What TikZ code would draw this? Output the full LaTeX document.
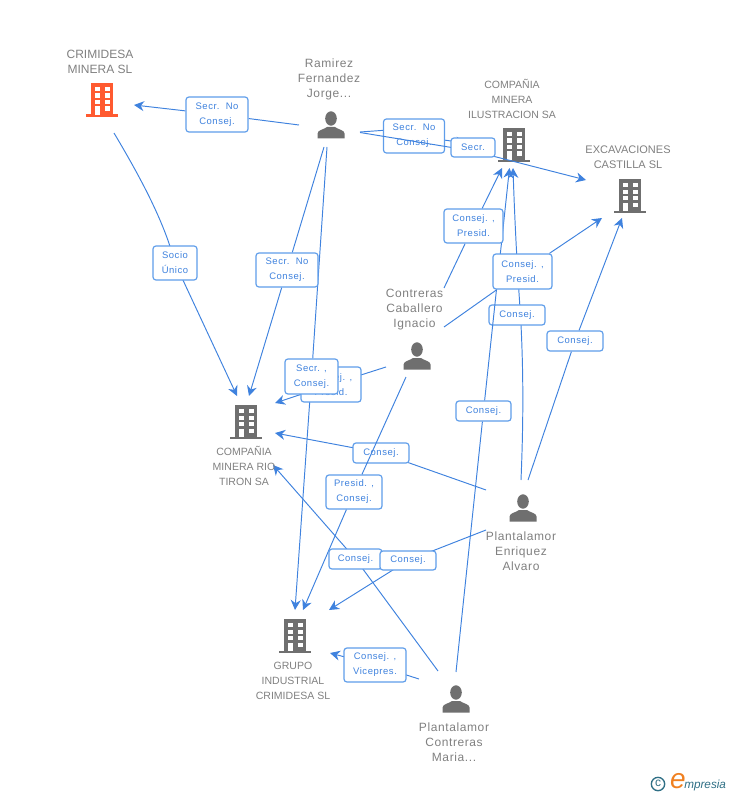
\documentclass[tikz,border=0pt]{standalone}
\usepackage{fontspec}
\setmainfont{Liberation Sans}
\usetikzlibrary{arrows.meta}
\pgfdeclarelayer{edges}
\pgfsetlayers{edges,main}
\definecolor{linkblue}{HTML}{3F82DE}
\definecolor{labelblue}{HTML}{3F82DE}
\definecolor{boxblue}{HTML}{5F9DEA}
\definecolor{icongray}{HTML}{6F6F6F}
\definecolor{textgray}{HTML}{808080}
\definecolor{iconorange}{HTML}{FF5A30}
\definecolor{logoteal}{HTML}{2F6F85}
\definecolor{logoorange}{HTML}{F08020}
\tikzset{
  x=0.75pt, y=-0.75pt,
  link/.style={draw=linkblue, line width=0.72pt, -{Stealth[length=7.5pt,width=7.5pt,inset=2.4pt]}},
  elabel/.style 2 args={draw=boxblue, line width=0.9pt, fill=white, rounded corners=2.2pt,
    inner sep=0pt, minimum width=#1*0.75pt, minimum height=#2*0.75pt, align=center, text=labelblue,
    font=\fontsize{7.1}{11.25}\selectfont\addfontfeature{LetterSpace=6}},
  orglabel/.style={text=textgray, align=center, inner sep=0pt, font=\fontsize{#1}{11.25}\selectfont},
  namelabel/.style={text=textgray, align=center, inner sep=0pt, font=\fontsize{9}{11.25}\selectfont\addfontfeature{LetterSpace=5}},
  iconbox/.style={inner sep=0pt, minimum size=24pt},
  pics/building/.style={code={
    \fill[#1] (-11,-17) rectangle (11,15);
    \fill[#1] (-16,14.5) rectangle (16,17);
    \foreach \wy in {-13,-6.5,0}{
      \fill[white] (-7.5,\wy) rectangle (-2.5,\wy+4.4);
      \fill[white] (2.5,\wy) rectangle (7.5,\wy+4.4);
    }
    \fill[white] (-7.5,6.5) rectangle (-2.5,15);
    \fill[white] (2.5,6.5) rectangle (7.5,10.9);
  }},
  pics/person/.style={code={
    \fill[icongray] (0,-6.5) ellipse [x radius=5.8, y radius=7.2];
    \fill[icongray] (-13.5,13.5) -- (-13.5,8.5) .. controls (-13.5,5) and (-7,4.5) .. (-4,2)
      -- (4,2) .. controls (7,4.5) and (13.5,5) .. (13.5,8.5) -- (13.5,13.5) -- cycle;
  }}
}
\begin{document}
\begin{tikzpicture}
\useasboundingbox (0,0) rectangle (728,795);

% icons
\node[iconbox] (crimidesa) at (102,100) {}; \pic at (102,100) {building=iconorange};
\node[iconbox] (ilustracion) at (514,145) {}; \pic at (514,145) {building=icongray};
\node[iconbox] (excavaciones) at (630,196) {}; \pic at (630,196) {building=icongray};
\node[iconbox] (riotiron) at (246,422) {}; \pic at (246,422) {building=icongray};
\node[iconbox] (grupo) at (295,636) {}; \pic at (295,636) {building=icongray};
\node[iconbox] (ramirez) at (331,125) {}; \pic at (331,125) {person};
\node[iconbox] (contreras) at (417,356) {}; \pic at (417,356) {person};
\node[iconbox] (enriquez) at (523,508) {}; \pic at (523,508) {person};
\node[iconbox] (maria) at (456,699) {}; \pic at (456,699) {person};

% names
\node[orglabel=9] (tcrim) at (100,61.5) {CRIMIDESA\\MINERA SL};
\node[namelabel] (tram) at (329,79) {Ramirez\\Fernandez\\Jorge...};
\node[orglabel=7.9] (tilu) at (512,98.7) {COMPAÑIA\\MINERA\\ILUSTRACION SA};
\node[orglabel=8.25] (texc) at (628,157.5) {EXCAVACIONES\\CASTILLA SL};
\node[namelabel] (tcon) at (414.5,309.5) {Contreras\\Caballero\\Ignacio};
\node[orglabel=7.9] (trio) at (244,466) {COMPAÑIA\\MINERA RIO\\TIRON SA};
\node[namelabel] (tenr) at (521,551) {Plantalamor\\Enriquez\\Alvaro};
\node[orglabel=7.9] (tgru) at (293,680.7) {GRUPO\\INDUSTRIAL\\CRIMIDESA SL};
\node[namelabel] (tmar) at (454,742) {Plantalamor\\Contreras\\Maria...};

% free ends of the connectors
\coordinate (r-w) at (299,125);
\coordinate (r-sw) at (324,147);
\coordinate (r-s) at (327,147);
\coordinate (r-e1) at (360,132);
\coordinate (r-e2) at (360,132.5);
\coordinate (r-j) at (388,130);
\coordinate (s-j) at (473,151);
\coordinate (c-n) at (444,288);
\coordinate (c-e) at (444,327);
\coordinate (c-w) at (386,367);
\coordinate (c-s) at (406,377);
\coordinate (e-nw) at (486,490);
\coordinate (e-n1) at (521,480);
\coordinate (e-n2) at (528,480);
\coordinate (e-w) at (486,530);
\coordinate (e-j) at (520.5,315);
\coordinate (m-n) at (456,672);
\coordinate (m-nw) at (438,671);
\coordinate (m-w) at (419,679);
\coordinate (cr-s) at (114,133);
\coordinate (to-crim) at (134,105);
\coordinate (to-ilu0) at (466,143);
\coordinate (to-ilu1) at (502,168);
\coordinate (to-ilu2) at (509.5,168);
\coordinate (to-ilu3) at (513,168);
\coordinate (to-exc1) at (586,180);
\coordinate (to-exc2) at (602,218);
\coordinate (to-exc3) at (622,218);
\coordinate (to-rio1) at (237,396);
\coordinate (to-rio2) at (249,396);
\coordinate (to-rio3) at (275,403);
\coordinate (to-rio4) at (275,433);
\coordinate (to-rio5) at (273,465);
\coordinate (to-gru1) at (295,610);
\coordinate (to-gru2) at (303,610);
\coordinate (to-gru3) at (329,610);
\coordinate (to-gru4) at (330,653);

% edge labels and the connectors that run over some of them, in stacking order
\node[elabel={62}{35}] (l1) at (217,114.5) {Secr.\ \ No\\Consej.};
\node[elabel={61}{34}] (l2) at (414,136) {Secr.\ \ No\\Consej.};
\draw[link] (r-e2) -- (s-j) -- (to-exc1);
\node[elabel={44}{19}] (l3) at (473,147.5) {Secr.};
\node[elabel={55}{20}] (l8) at (483.5,411) {Consej.};
\node[elabel={56}{20}] (l6) at (517,315) {Consej.};
\draw[link] (m-n) -- (l8) -- (to-ilu2);
\node[elabel={59}{34}] (l4) at (473.5,226) {Consej. ,\\Presid.};
\node[elabel={59}{35}] (l5) at (522.5,271.5) {Consej. ,\\Presid.};
\node[elabel={56}{20}] (l7) at (575,341) {Consej.};
\node[elabel={44}{34}] (l9) at (175,263) {Socio\\Único};
\node[elabel={62}{34}] (l10) at (287,270) {Secr.\ \ No\\Consej.};
\node[elabel={60}{35}] (l11) at (331,384.5) {Consej. ,\\Presid.};
\node[elabel={53}{35}] (l12) at (311.5,376.5) {Secr. ,\\Consej.};
\node[elabel={56}{34}] (l14) at (354,492) {Presid. ,\\Consej.};
\node[elabel={56}{20}] (l13) at (381,453) {Consej.};
\draw[link] (c-s) -- (l14) -- (to-gru2);
\node[elabel={53}{20}] (l15) at (355.5,559) {Consej.};
\node[elabel={56}{19}] (l16) at (408,560.5) {Consej.};
\node[elabel={62}{34}] (l17) at (375,665) {Consej. ,\\Vicepres.};

% connectors under the labels
\begin{pgfonlayer}{edges}
\draw[link] (r-w) -- (l1) -- (to-crim);
\draw[link] (r-sw) -- (l10) -- (to-rio2);
\draw[link] (r-s) -- (l12) -- (to-gru1);
\draw[link] (r-e1) -- (r-j) -- (l2.center) -- (to-ilu0);
\draw[link] (c-n) -- (l4) -- (to-ilu1);
\draw[link] (c-e) -- (l5) -- (to-exc2);
\draw[link] (c-w) -- (l11.center) -- (to-rio3);
\draw[link] (e-nw) -- (l13.center) -- (to-rio4);
\draw[link] (e-n1) .. controls (523.5,420) and (523.5,370) .. (e-j) .. controls (518,280) and (515,230) .. (to-ilu3);
\draw[link] (e-n2) -- (l7) -- (to-exc3);
\draw[link] (e-w) -- (l16.center) -- (to-gru3);
\draw[link] (m-nw) -- (l15.center) -- (to-rio5);
\draw[link] (m-w) -- (l17.center) -- (to-gru4);
\draw[link] (cr-s) .. controls (145,185) and (165,225) .. (l9.center) -- (to-rio1);
\end{pgfonlayer}

% logo
\node[draw=logoteal, line width=1pt, circle, inner sep=0pt, minimum size=10pt, text=logoteal,
  font=\fontsize{9}{9}\selectfont] (logoc) at (658,784) {\raisebox{0.5pt}{c}};
\node[text=logoorange, inner sep=0pt, font=\fontsize{21}{21}\selectfont\itshape] (logoe) at (678,781) {e};
\node[text=logoteal, inner sep=0pt, anchor=west, font=\fontsize{8.8}{10}\selectfont\itshape] (logot) at (684,785) {mpresia};
\end{tikzpicture}
\end{document}
